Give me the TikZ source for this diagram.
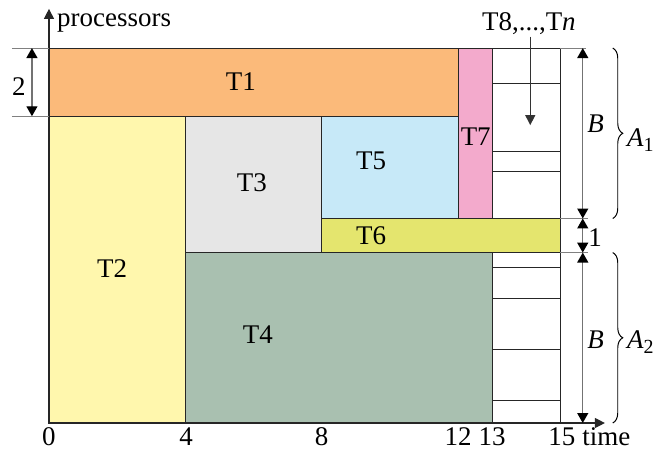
\documentclass[tikz,border=0pt]{standalone}
\usepackage{fontspec}
\setmainfont{Liberation Serif}
\usetikzlibrary{positioning,arrows.meta,decorations.pathreplacing}
\definecolor{tOne}{HTML}{FBBA7A}
\definecolor{tTwo}{HTML}{FFF7AD}
\definecolor{tThree}{HTML}{E6E6E6}
\definecolor{tFour}{HTML}{A9C0B0}
\definecolor{tFive}{HTML}{C7E9F8}
\definecolor{tSix}{HTML}{E4E56E}
\definecolor{tSeven}{HTML}{F3AACC}
\newcommand{\subone}[1]{\raisebox{-0.45ex}{\fontsize{10}{11}\selectfont #1}}

\begin{document}
\begin{tikzpicture}[x=0.6cm,y=0.6cm,>={Triangle[length=5pt,width=5pt]},
  task/.style={draw=black!85,line width=0.5pt},
  guide/.style={draw=black!50,line width=0.5pt},
  dimarrow/.style={{Triangle[length=5pt,width=5.5pt,color=black]}-{Triangle[length=5pt,width=5.5pt,color=black]},draw=black!55,line width=0.7pt},
  lbl/.style={font=\fontsize{13.5}{15}\selectfont,inner sep=0pt},
  brc/.style={decorate,decoration={brace,amplitude=5pt},line width=0.5pt}]
\useasboundingbox (-1.437,-0.79) rectangle (18.19,12.41);

% the tasks
\filldraw[task,fill=tTwo] (0,0) rectangle (4,9);
\filldraw[task,fill=tOne] (0,9) rectangle (12,11);
\filldraw[task,fill=tThree] (4,5) rectangle (8,9);
\filldraw[task,fill=tFour] (4,0) rectangle (13,5);
\filldraw[task,fill=tFive] (8,6) rectangle (12,9);
\filldraw[task,fill=tSix] (8,5) rectangle (15,6);
\filldraw[task,fill=tSeven] (12,6) rectangle (13,11);
\draw[task] (13,6) rectangle (15,11);
\draw[task] (13,0) rectangle (15,5);
\foreach \y in {9.97,7.96,7.37} \draw[task] (13,\y) -- (15,\y);
\foreach \y in {4.56,3.66,2.16,0.65} \draw[task] (13,\y) -- (15,\y);

\node[lbl] (t1) at (5.63,10.03) {T1};
\node[lbl] (t2) at (1.85,4.52) {T2};
\node[lbl] (t3) at (5.95,7.06) {T3};
\node[lbl] (t4) at (6.13,2.59) {T4};
\node[lbl] (t5) at (9.45,7.68) {T5};
\node[lbl] (t6) at (9.45,5.5) {T6};
\node[lbl] (t7) at (12.52,8.41) {T7};
\node[lbl] (tn) at (14.08,11.72) {T8,...,T\textit{n}};
\coordinate (tnend) at (14.12,8.74);
\draw[->,black!80,line width=0.6pt] (tn.south -| tnend) ++(0,-0.05) -- (tnend);

% axes
\coordinate (origin) at (0,0);
\coordinate (xend) at (16.31,0);
\coordinate (yend) at (0,12.15);
\draw[->,black!85,line width=0.6pt] (origin) -- (xend);
\draw[->,black!85,line width=0.6pt] (origin) -- (yend);
\node[lbl,anchor=base west] (proc) at (0.23,11.62) {processors};
\foreach \x/\name in {0/0,4.02/4,8/8,12/12,13/13,15.05/15}
  \node[lbl,anchor=base] (tick\name) at (\x,-0.65) {\name};
\node[lbl,anchor=base west] (time) at (15.64,-0.65) {time};

% guide lines
\draw[guide] (-1.09,11) -- (0,11);
\draw[guide] (-1.09,9) -- (0,9);
\draw[guide] (15,11) -- (15.75,11);
\draw[guide] (15,6) -- (15.8,6);
\draw[guide] (15,5) -- (15.8,5);

% dimensions
\coordinate (h2top) at (-0.5,11);
\coordinate (h2bot) at (-0.5,9);
\draw[dimarrow] (h2top) -- (h2bot);
\node[lbl,anchor=base] (htwo) at (-0.88,9.62) {2};
\coordinate (b1top) at (15.66,11);
\coordinate (b1bot) at (15.66,6);
\coordinate (b2top) at (15.66,5);
\coordinate (b2bot) at (15.66,0);
\draw[dimarrow] (b1top) -- (b1bot);
\draw[dimarrow] (b1bot) -- (b2top);
\draw[dimarrow] (b2top) -- (b2bot);
\node[lbl,anchor=base] (bone) at (16.04,8.51) {\textit{B}};
\node[lbl,anchor=base] (one) at (16.02,5.19) {1};
\node[lbl,anchor=base] (btwo) at (16.04,2.2) {\textit{B}};

% braces
\draw[brc] (16.54,11) -- (16.54,6);
\draw[brc] (16.54,5) -- (16.54,0);
\node[lbl,anchor=base west] (aone) at (16.95,8.12) {\textit{A}\subone{1}};
\node[lbl,anchor=base west] (atwo) at (16.95,2.2) {\textit{A}\subone{2}};
\end{tikzpicture}
\end{document}
